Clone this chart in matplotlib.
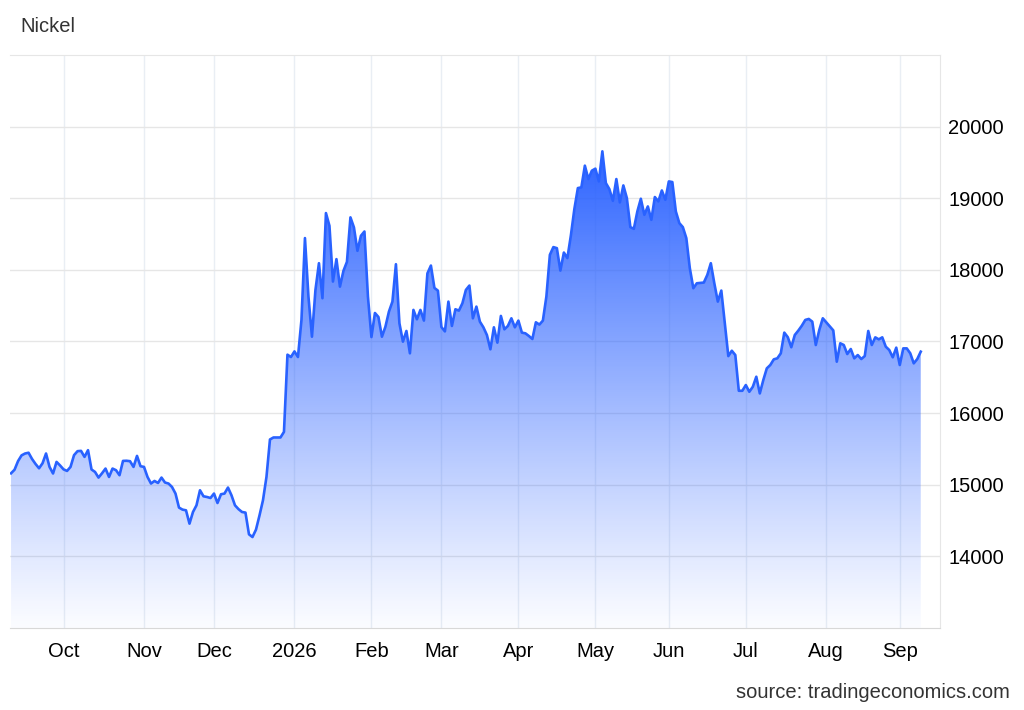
import numpy as np
import pandas as pd
import matplotlib
matplotlib.use('Agg')
import matplotlib.pyplot as plt
from matplotlib.path import Path
from matplotlib.patches import PathPatch

plt.rcParams['font.family'] = ['Liberation Sans', 'DejaVu Sans']

# daily nickel price (USD/t), one value per business day
sep_2025 = [15160, 15210, 15330, 15410, 15436, 15447, 15360, 15290, 15230, 15300,
            15436, 15249, 15157, 15319, 15270]
oct_2025 = [15215, 15193, 15249, 15413, 15469, 15473, 15389, 15483, 15213, 15179,
            15100, 15160, 15226, 15109, 15226, 15203, 15133, 15333, 15335, 15329,
            15249, 15403, 15259]
nov_2025 = [15249, 15109, 15017, 15053, 15025, 15100, 15031, 15017, 14969, 14877,
            14681, 14653, 14643, 14457, 14620, 14713, 14923, 14839, 14829, 14815]
dec_2025 = [14877, 14745, 14867, 14877, 14961, 14853, 14713, 14660, 14620, 14611,
            14308, 14270, 14373, 14570, 14783, 15109, 15632, 15660, 15660, 15660,
            15738, 16816, 16783]
jan_2026 = [16862, 16783, 17301, 18444, 17627, 17067, 17720, 18093, 17604, 18793,
            18615, 17837, 18150, 17766, 17986, 18112, 18733, 18593, 18266, 18476,
            18536, 17627]
feb_2026 = [17062, 17398, 17342, 17067, 17207, 17417, 17557, 18079, 17254, 16998,
            17147, 16835, 17441, 17310, 17441, 17292, 17951, 18060, 17748, 17710]
mar_2026 = [17202, 17141, 17557, 17217, 17450, 17431, 17534, 17720, 17781, 17324,
            17487, 17277, 17198, 17091, 16891, 17198, 16984, 17357, 17170, 17217,
            17324, 17198]
apr_2026 = [17292, 17124, 17114, 17077, 17035, 17268, 17236, 17292, 17627, 18210,
            18318, 18303, 17990, 18242, 18164, 18480, 18850, 19142, 19152, 19455,
            19268, 19385]
may_2026 = [19413, 19235, 19655, 19212, 19128, 18965, 19268, 18942, 19179, 19003,
            18597, 18573, 18816, 18993, 18769, 18886, 18699, 19017, 18956, 19109,
            18979]
jun_2026 = [19235, 19226, 18816, 18653, 18597, 18443, 18023, 17744, 17813, 17818,
            17823, 17930, 18093, 17813, 17557, 17711, 17254, 16796, 16871, 16811,
            16312, 16312]
jul_2026 = [16392, 16298, 16368, 16508, 16275, 16462, 16625, 16672, 16751, 16765,
            16835, 17124, 17060, 16920, 17091, 17152, 17220, 17301, 17315, 17277,
            16951, 17161, 17324]
aug_2026 = [17268, 17212, 17155, 16718, 16975, 16951, 16825, 16895, 16765, 16811,
            16755, 16797, 17147, 16951, 17058, 17030, 17058, 16928, 16881, 16779,
            16914]
sep_2026 = [16672, 16904, 16904, 16835, 16695, 16755, 16858]

prices = np.array(sep_2025 + oct_2025 + nov_2025 + dec_2025 + jan_2026 + feb_2026
                  + mar_2026 + apr_2026 + may_2026 + jun_2026 + jul_2026
                  + aug_2026 + sep_2026, dtype=float)
dates = pd.bdate_range('2025-09-10', '2026-09-09')
assert len(dates) == len(prices)

y_ticks = [14000, 15000, 16000, 17000, 18000, 19000, 20000]
y_min, y_max = 13000, 21000
line_color = '#2962ff'

n = len(prices)
x = np.arange(n)

# month ticks on the first trading day of each month
tick_pos = [i for i in range(1, n) if dates[i].month != dates[i - 1].month]
tick_lab = [str(dates[i].year) if dates[i].month == 1 else dates[i].strftime('%b')
            for i in tick_pos]

fig = plt.figure(figsize=(10.24, 7.1), dpi=100)
ax = fig.add_axes([10 / 1024, 82 / 710, 930 / 1024, 573 / 710])

# gradient fill under the line
grad = np.linspace(0, 1, 256)
img = np.zeros((256, 1, 4))
img[..., 0] = 0.16
img[..., 1] = 0.38
img[..., 2] = 1.0
img[..., 3] = (0.02 + 0.96 * grad ** 1.1)[:, None]
im = ax.imshow(img, extent=[0, n - 1, y_min, prices.max()], origin='lower',
               aspect='auto', zorder=1, interpolation='bilinear')
verts = [(0, y_min)] + list(zip(x, prices)) + [(n - 1, y_min), (0, y_min)]
clip = PathPatch(Path(verts), transform=ax.transData, facecolor='none', edgecolor='none')
ax.add_patch(clip)
im.set_clip_path(clip)

ax.plot(x, prices, color=line_color, lw=1.9, zorder=3, solid_joinstyle='round')

ax.set_xlim(-0.3, 265.5)
ax.set_ylim(y_min, y_max)

ax.set_xticks(tick_pos)
ax.set_xticklabels(tick_lab, fontsize=14.5)
ax.set_yticks(y_ticks)
ax.set_yticklabels([str(v) for v in y_ticks], fontsize=14.5)
ax.yaxis.tick_right()
ax.tick_params(axis='both', length=0, colors='#000000')
ax.tick_params(axis='x', pad=10)
ax.tick_params(axis='y', pad=6)

ax.grid(axis='y', color='#e6e6e6', lw=1.0, zorder=0)
ax.grid(axis='x', color='#e9eef4', lw=1.0, zorder=0)
ax.set_axisbelow(True)

ax.spines['left'].set_visible(False)
ax.spines['top'].set_color('#e6e6e6')
ax.spines['bottom'].set_color('#d8d8d8')
ax.spines['right'].set_color('#e6e6e6')

fig.text(20 / 1024, 1 - 27 / 710, 'Nickel', fontsize=14.5, color='#333333', va='center')
fig.text(1010 / 1024, 1 - 693 / 710, 'source: tradingeconomics.com', fontsize=14.5,
         color='#333333', ha='right', va='center')

fig.savefig('out.png', dpi=100)
